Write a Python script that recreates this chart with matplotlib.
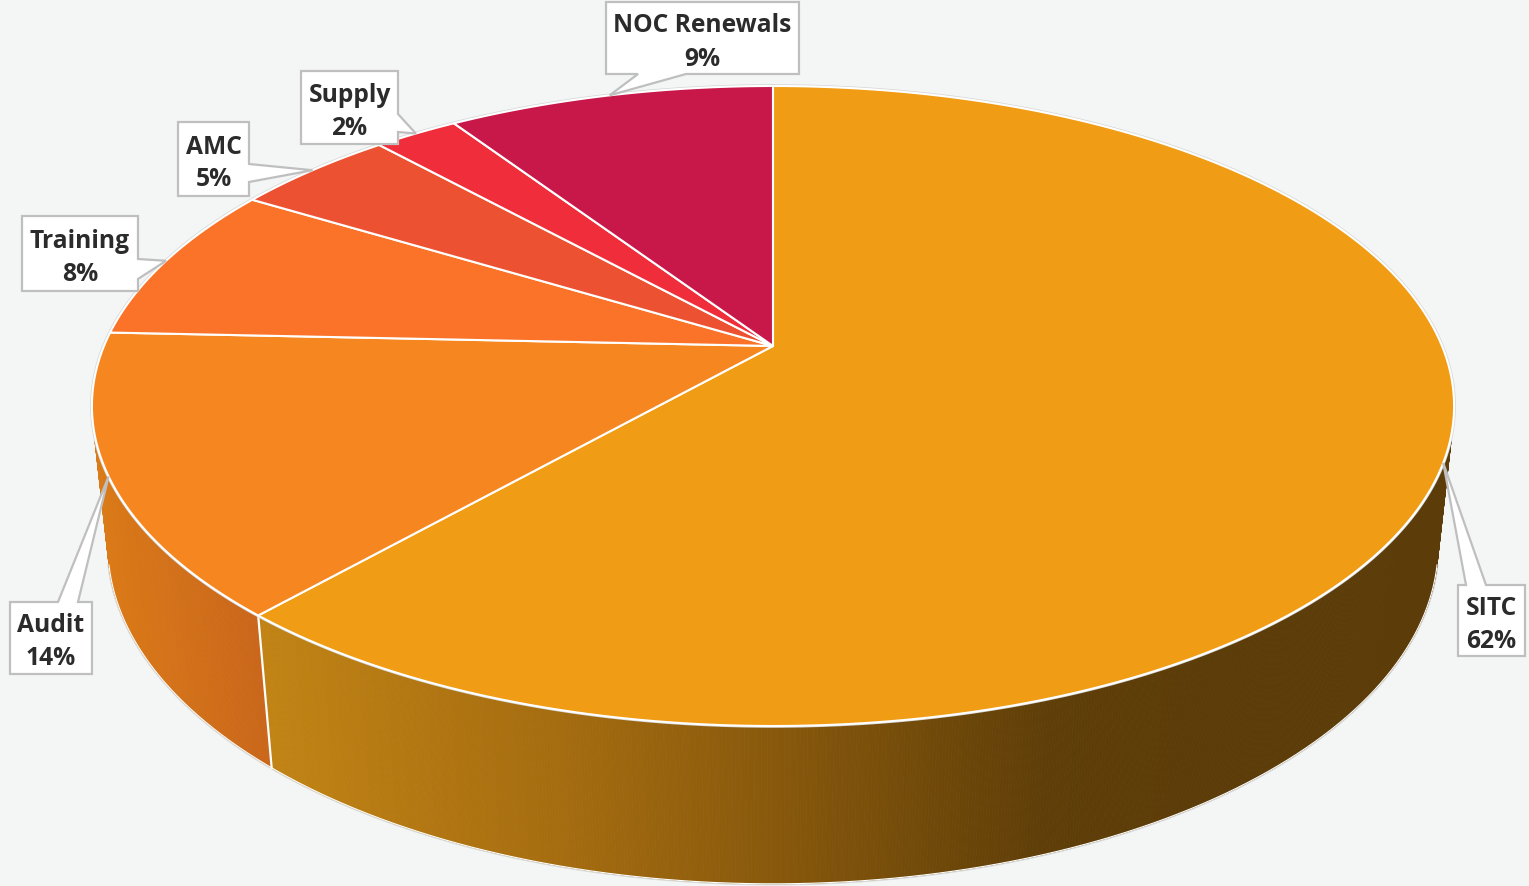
import numpy as np
import matplotlib
matplotlib.use('Agg')
import matplotlib.pyplot as plt
from matplotlib.patches import Polygon
from matplotlib.colors import to_rgb

# ---------------- data ----------------
categories = ['SITC', 'Audit', 'Training', 'AMC', 'Supply', 'NOC Renewals']
values = [61.5, 14.2, 8.0, 4.6, 2.4, 9.3]
top_colors = ['#F09C14', '#F6861F', '#FB7328', '#EC5232', '#F02D3B', '#C8184A']

# wall gradients (screen-x anchor, colour) for slices whose side is visible
wall_gradients = {
    0: [(250, '#C28414'), (560, '#A56C10'), (760, '#8A5A0C'), (1050, '#5F3E08'), (1200, '#5C3C08')],
    1: [(95, '#DA7A18'), (260, '#C9661A')],
}

# label box layout: (x0, y0, x1, y1), wedge side, wedge base
label_layout = {
    'SITC': ((1458, 586, 1525, 657), 'top', (1466, 1486)),
    'Audit': ((10, 603, 92, 675), 'top', (58, 78)),
    'Training': ((22, 217, 138, 292), 'right', (260, 280)),
    'AMC': ((178, 123, 249, 197), 'right', (165, 183)),
    'Supply': ((301, 72, 398, 145), 'right', (115, 133)),
    'NOC Renewals': ((606, 3, 799, 75), 'bottom', (638, 686)),
}

bg = '#F4F6F6'
W, Hpx = 1529, 887

# ---------------- projection ----------------
cx, cy = 773.0, 347.0
sphi = 0.4615
cphi = np.sqrt(1 - sphi ** 2)
D = cphi / 0.1875
S = 669.0 * D
H = 0.237


def proj(theta, z=0.0):
    u = np.sin(theta)
    v = np.cos(theta)
    den = D + v * cphi - z * sphi
    X = cx + S * u / den
    Y = cy - S * (v * sphi + z * cphi) / den
    return X, Y


def grad_color(stops, x):
    xs = [s[0] for s in stops]
    cols = np.array([to_rgb(s[1]) for s in stops])
    return tuple(np.interp(x, xs, cols[:, k]) for k in range(3))


fig = plt.figure(figsize=(W / 100, Hpx / 100), dpi=100)
fig.patch.set_facecolor(bg)
ax = fig.add_axes([0, 0, 1, 1])
ax.set_xlim(0, W)
ax.set_ylim(Hpx, 0)
ax.axis('off')
ax.set_facecolor(bg)

total = float(sum(values))
cum = np.concatenate([[0.0], np.cumsum(values)]) / total * 2 * np.pi

vis_lo = np.arccos(-1.0 / (D * cphi))
vis_hi = 2 * np.pi - vis_lo

# outer faint outline of the whole solid
tt = np.linspace(vis_lo, vis_hi, 400)
obx, oby = proj(tt, -H)
ax.plot(obx, oby, color='#D6D8D8', lw=2.2, zorder=1, solid_capstyle='round')

# ---------------- walls ----------------
for i in range(len(values)):
    a0 = max(cum[i], vis_lo)
    a1 = min(cum[i + 1], vis_hi)
    if a1 <= a0:
        continue
    n = max(2, int((a1 - a0) / 0.004))
    ts = np.linspace(a0, a1, n + 1)
    tx, ty = proj(ts, 0.0)
    bx, by = proj(ts, -H)
    stops = wall_gradients.get(i, [(0, top_colors[i]), (W, top_colors[i])])
    for j in range(n):
        quad = [(tx[j], ty[j]), (tx[j + 1], ty[j + 1]), (bx[j + 1], by[j + 1]), (bx[j], by[j])]
        c = grad_color(stops, 0.5 * (tx[j] + tx[j + 1]))
        ax.add_patch(Polygon(quad, closed=True, facecolor=c, edgecolor=c, lw=0.6, zorder=2))

# bottom edge of walls
ax.plot(obx, oby, color='#FFFFFF', lw=0.8, zorder=3)

# wall boundary lines
for a in cum[1:-1]:
    if vis_lo < a < vis_hi:
        x0, y0 = proj(a, 0.0)
        x1, y1 = proj(a, -H)
        ax.plot([x0, x1], [y0, y1], color='white', lw=1.6, zorder=3)

# ---------------- top faces ----------------
tf = np.linspace(0, 2 * np.pi, 800)
ex, ey = proj(tf, 0.0)
ax.plot(ex, ey, color='#D6D8D8', lw=2.6, zorder=3.5)
for i in range(len(values)):
    n = max(8, int((cum[i + 1] - cum[i]) / 0.004))
    ts = np.linspace(cum[i], cum[i + 1], n + 1)
    x, y = proj(ts, 0.0)
    pts = [(cx, cy)] + list(zip(x, y))
    ax.add_patch(Polygon(pts, closed=True, facecolor=top_colors[i], edgecolor='white',
                         lw=1.5, joinstyle='round', zorder=4))

# ---------------- callout labels ----------------
font = ['Open Sans', 'DejaVu Sans']


def callout(box, side, base, tip):
    x0, y0, x1, y1 = box
    pts = [(x0, y0)]
    if side == 'top':
        pts += [(base[0], y0), tip, (base[1], y0)]
    pts.append((x1, y0))
    if side == 'right':
        pts += [(x1, base[0]), tip, (x1, base[1])]
    pts.append((x1, y1))
    if side == 'bottom':
        pts += [(base[1], y1), tip, (base[0], y1)]
    pts.append((x0, y1))
    if side == 'left':
        pts += [(x0, base[1]), tip, (x0, base[0])]
    return pts


for i, name in enumerate(categories):
    box, side, base = label_layout[name]
    mid = 0.5 * (cum[i] + cum[i + 1])
    tip = proj(mid, 0.0)
    tip = (float(tip[0]), float(tip[1]))
    ax.add_patch(Polygon(callout(box, side, base, tip), closed=True, facecolor='white',
                         edgecolor='#BFBFBF', lw=1.6, joinstyle='miter', zorder=6))
    pct = int(np.floor(values[i] / total * 100 + 0.5 + 1e-9))
    xc = 0.5 * (box[0] + box[2])
    yc = 0.5 * (box[1] + box[3])
    ax.text(xc, yc - 13, name, ha='center', va='center', fontsize=17.7, fontweight='bold',
            family=font, color='#2B2B2B', zorder=7)
    ax.text(xc, yc + 20, f'{pct}%', ha='center', va='center', fontsize=17.7, fontweight='bold',
            family=font, color='#2B2B2B', zorder=7)

fig.savefig('out.png', dpi=100, facecolor=bg)
